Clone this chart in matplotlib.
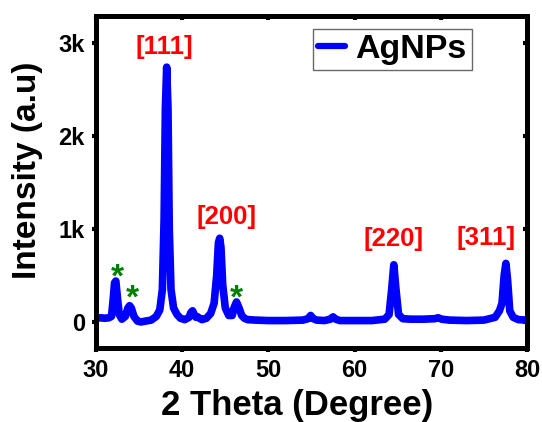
import matplotlib
matplotlib.use("Agg")
import matplotlib.pyplot as plt

plt.rcParams['font.family'] = ['Liberation Sans', 'DejaVu Sans']
plt.rcParams['font.weight'] = 'bold'

# XRD pattern
two_theta = [30.0, 30.5, 31.0, 31.5, 31.8, 32.0, 32.15, 32.3, 32.5, 32.7, 33.0, 33.4, 33.7, 33.9,
             34.1, 34.4, 34.8, 35.2, 35.8, 36.4, 37.0, 37.4, 37.7, 37.9, 38.05, 38.2, 38.35, 38.5,
             38.7, 39.0, 39.4, 39.8, 40.3, 40.8, 41.0, 41.2, 41.4, 41.6, 41.8, 42.0, 42.3, 42.8,
             43.3, 43.7, 44.0, 44.2, 44.35, 44.5, 44.7, 45.0, 45.4, 45.8, 46.0, 46.3, 46.6, 46.9,
             47.2, 47.6, 48.5, 50.0, 52.0, 54.0, 54.6, 54.9, 55.2, 55.6, 56.5, 57.2, 57.5, 57.8,
             58.3, 60.0, 62.0, 63.5, 64.0, 64.3, 64.55, 64.8, 65.1, 65.6, 66.5, 68.0, 69.3, 69.7,
             70.1, 71.0, 73.0, 75.0, 76.3, 76.8, 77.1, 77.35, 77.55, 77.75, 78.0, 78.4, 79.0, 80.0]
intensity = [40, 45, 40, 45, 60, 250, 420, 440, 250, 80, 30, 60, 150, 175,
             150, 60, 10, 0, 10, 20, 60, 130, 350, 1100, 2300, 2740, 2300, 1000,
             350, 150, 80, 40, 25, 50, 100, 120, 80, 50, 55, 40, 25, 40,
             90, 200, 500, 850, 900, 800, 400, 150, 70, 70, 150, 215, 150, 70,
             40, 25, 20, 15, 15, 20, 35, 70, 35, 20, 15, 30, 55, 30,
             15, 15, 15, 30, 80, 350, 615, 350, 80, 35, 30, 30, 35, 45,
             30, 20, 15, 20, 50, 120, 200, 500, 630, 450, 120, 50, 25, 20]

peak_labels = ["[111]", "[200]", "[220]", "[311]"]
peak_label_x = [37.95, 45.17, 64.5, 75.3]
peak_label_y = [2960, 1130, 887, 908]

star_x = [32.5, 34.2, 46.3]
star_y = [470, 245, 250]

x_ticks = [30, 40, 50, 60, 70, 80]
y_ticks = [0, 1000, 2000, 3000]
y_tick_labels = ["0", "1k", "2k", "3k"]

fig = plt.figure(figsize=(5.42, 4.22), dpi=100)
ax = fig.add_axes([96/542, 1-348/422, (527-96)/542, (348-16)/422])

ax.plot(two_theta, intensity, color='#0000ff', lw=5.5, solid_joinstyle='round',
        solid_capstyle='round', label='AgNPs')

for t, x, y in zip(peak_labels, peak_label_x, peak_label_y):
    ax.text(x, y, t, color='#ff0000', fontsize=18.5, fontweight='bold', ha='center', va='center')
for x, y in zip(star_x, star_y):
    ax.text(x, y, "*", color='#008000', fontsize=24, fontweight='bold', ha='center', va='center')

ax.set_xlim(30, 80)
ax.set_ylim(-280, 3290)
ax.set_xticks(x_ticks)
ax.set_yticks(y_ticks)
ax.set_yticklabels(y_tick_labels)

for s in ax.spines.values():
    s.set_linewidth(3.6)
ax.tick_params(axis='both', which='major', direction='out', length=3, width=3,
               labelsize=17, pad=5)
ax2 = ax.secondary_xaxis('top')
ax2.set_xticks(x_ticks)
ax2.tick_params(direction='in', length=3, width=3, labeltop=False)
ax2.spines['top'].set_visible(False)
ax3 = ax.secondary_yaxis('right')
ax3.set_yticks(y_ticks)
ax3.tick_params(direction='in', length=3, width=3, labelright=False)
ax3.spines['right'].set_visible(False)

ax.set_xlabel("2 Theta (Degree)", fontsize=25, fontweight='bold')
ax.set_ylabel("Intensity (a.u)", fontsize=24, fontweight='bold')
ax.xaxis.label.set_va('center')
ax.yaxis.label.set_va('center')
ax.xaxis.set_label_coords(0.4675, -0.172)
ax.yaxis.set_label_coords(-0.16, 0.536)

leg = ax.legend(loc='upper right', bbox_to_anchor=(0.872, 0.961), borderaxespad=0,
                handlelength=0.8, handletextpad=0.3, borderpad=0.15,
                fancybox=False, frameon=True, prop={'weight': 'bold', 'size': 24.5})
leg.get_frame().set_edgecolor('#444444')
leg.get_frame().set_linewidth(1.0)
leg.get_lines()[0].set_linewidth(4.5)

fig.savefig("out.png", dpi=100)
